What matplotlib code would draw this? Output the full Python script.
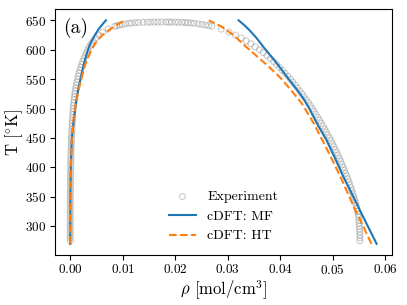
import matplotlib
matplotlib.use("Agg")
import matplotlib.pyplot as plt

plt.rcParams['font.family'] = 'serif'
plt.rcParams['font.serif'] = ['cmr10']
plt.rcParams['mathtext.fontset'] = 'cm'
plt.rcParams['axes.formatter.use_mathtext'] = True

# experimental coexistence data (water)
T_exp = [275, 280, 285, 290, 295, 300, 305, 310, 315, 320, 325, 330, 335, 340,
         345, 350, 355, 360, 365, 370, 375, 380, 385, 390, 395, 400, 405, 410,
         415, 420, 425, 430, 435, 440, 445, 450, 455, 460, 465, 470, 475, 480,
         485, 490, 495, 500, 505, 510, 515, 520, 525, 530, 535, 540, 545, 550,
         555, 560, 565, 570, 575, 580, 585, 590, 595, 600, 605, 610, 615, 620,
         625, 630, 635, 640, 641, 642, 643, 644, 645, 645.5, 646, 646.3, 646.6,
         646.8, 646.9, 647.0, 647.05, 647.1]
rho_exp_liq = [0.05520, 0.05521, 0.05520, 0.05518, 0.05515, 0.05512, 0.05508,
               0.05503, 0.05497, 0.05490, 0.05479, 0.05465, 0.05451, 0.05436,
               0.05420, 0.05405, 0.05388, 0.05370, 0.05352, 0.05332, 0.05312,
               0.05292, 0.05271, 0.05249, 0.05227, 0.05204, 0.05180, 0.05156,
               0.05131, 0.05106, 0.05080, 0.05054, 0.05027, 0.04999, 0.04971,
               0.04942, 0.04912, 0.04882, 0.04851, 0.04819, 0.04786, 0.04753,
               0.04719, 0.04684, 0.04649, 0.04614, 0.04577, 0.04538, 0.04499,
               0.04458, 0.04417, 0.04374, 0.04331, 0.04286, 0.04242, 0.04197,
               0.04147, 0.04095, 0.04043, 0.03989, 0.03933, 0.03875, 0.03813,
               0.03749, 0.03680, 0.03605, 0.03525, 0.03442, 0.03353, 0.03258,
               0.03150, 0.03025, 0.02880, 0.02700, 0.02640, 0.02580, 0.02510,
               0.02440, 0.02360, 0.02300, 0.02240, 0.02190, 0.02130, 0.02060,
               0.02000, 0.01930, 0.01880, 0.01820]
rho_exp_vap = [3e-7, 4e-7, 6e-7, 8e-7, 1.1e-6, 1.4e-6, 1.9e-6, 2.5e-6, 3.2e-6,
               4.1e-6, 4.9e-6, 6.2e-6, 7.7e-6, 9.5e-6, 1.17e-5, 1.44e-5,
               1.75e-5, 2.1e-5, 2.5e-5, 3.0e-5, 3.5e-5, 4.2e-5, 4.9e-5, 5.7e-5,
               6.6e-5, 7.6e-5, 8.8e-5, 1.0e-4, 1.15e-4, 1.3e-4, 1.45e-4, 1.6e-4,
               1.8e-4, 2.0e-4, 2.2e-4, 2.4e-4, 2.65e-4, 2.9e-4, 3.2e-4, 3.5e-4,
               3.85e-4, 4.2e-4, 4.5e-4, 4.8e-4, 5.1e-4, 5.5e-4, 6.0e-4, 6.6e-4,
               7.3e-4, 8.0e-4, 8.8e-4, 9.6e-4, 1.05e-3, 1.15e-3, 1.27e-3,
               1.40e-3, 1.53e-3, 1.67e-3, 1.83e-3, 2.0e-3, 2.18e-3, 2.38e-3,
               2.6e-3, 2.84e-3, 3.1e-3, 3.35e-3, 3.6e-3, 3.95e-3, 4.35e-3,
               4.85e-3, 5.45e-3, 6.2e-3, 7.2e-3, 8.5e-3, 8.9e-3, 9.4e-3, 9.9e-3,
               1.05e-2, 1.12e-2, 1.17e-2, 1.24e-2, 1.30e-2, 1.39e-2, 1.47e-2,
               1.53e-2, 1.60e-2, 1.67e-2, 1.74e-2]

# cDFT: MF
T_mf_vap = [270, 350, 400, 450, 481, 510, 536, 560, 576, 595, 610, 625, 635, 645, 650]
rho_mf_vap = [0.0, 0.00002, 0.0001, 0.0003, 0.00067, 0.0011, 0.0016, 0.0022,
              0.0026, 0.0032, 0.0038, 0.0047, 0.0054, 0.0063, 0.0068]
T_mf_liq = [270, 295, 329, 355, 385, 415, 447, 470, 501, 515, 530, 554, 580,
            605, 620, 630, 640, 650]
rho_mf_liq = [0.0584, 0.0570, 0.0551, 0.0537, 0.0520, 0.0505, 0.0488, 0.0473,
              0.0455, 0.0446, 0.0434, 0.0413, 0.0391, 0.0368, 0.0355, 0.0345,
              0.0334, 0.0321]

# cDFT: HT
T_ht_vap = [270, 350, 400, 450, 481, 510, 536, 560, 576, 595, 610, 625, 633, 642, 650]
rho_ht_vap = [0.0, 0.00002, 0.0001, 0.0003, 0.0006, 0.0011, 0.0017, 0.0024,
              0.0029, 0.0038, 0.0047, 0.0061, 0.0073, 0.0088, 0.0104]
T_ht_liq = [270, 295, 324, 350, 380, 410, 442, 475, 508, 530, 552, 570, 588,
            605, 625, 632, 640, 650]
rho_ht_liq = [0.0574, 0.0561, 0.0545, 0.0532, 0.0517, 0.0501, 0.0483, 0.0464,
              0.0442, 0.0422, 0.0401, 0.0380, 0.0357, 0.0335, 0.0311, 0.0300,
              0.0287, 0.0264]

fig = plt.figure(figsize=(4.07, 3.05), dpi=100)
ax = fig.add_axes([0.135, 0.164, 0.828, 0.806])

ax.scatter(rho_exp_vap + rho_exp_liq, T_exp + T_exp, s=18, facecolors='none',
           edgecolors='gray', linewidths=0.8, alpha=0.4, label='Experiment')
ax.plot(rho_mf_vap, T_mf_vap, color='C0', lw=1.5, label='cDFT: MF')
ax.plot(rho_mf_liq, T_mf_liq, color='C0', lw=1.5)
ax.plot(rho_ht_vap, T_ht_vap, color='C1', lw=1.5, ls='--', label='cDFT: HT')
ax.plot(rho_ht_liq, T_ht_liq, color='C1', lw=1.5, ls='--')

ax.set_xlabel(r'$\rho$ [mol/cm$^3$]', fontsize=12)
ax.set_ylabel(r'T [$^{\circ}$K]', fontsize=12)
ax.xaxis.set_label_coords(0.5, -0.095)
ax.yaxis.set_label_coords(-0.088, 0.5)
ax.tick_params(labelsize=9.5, pad=2.5)
ax.set_xticks([0.0, 0.01, 0.02, 0.03, 0.04, 0.05, 0.06])
ax.set_yticks([300, 350, 400, 450, 500, 550, 600, 650])
ax.text(0.025, 0.965, '(a)', transform=ax.transAxes, fontsize=14, va='top')

ax.legend(loc='lower center', bbox_to_anchor=(0.5, 0.0), frameon=False,
          fontsize=10, handlelength=2.0)

fig.savefig('out.png', dpi=100)
